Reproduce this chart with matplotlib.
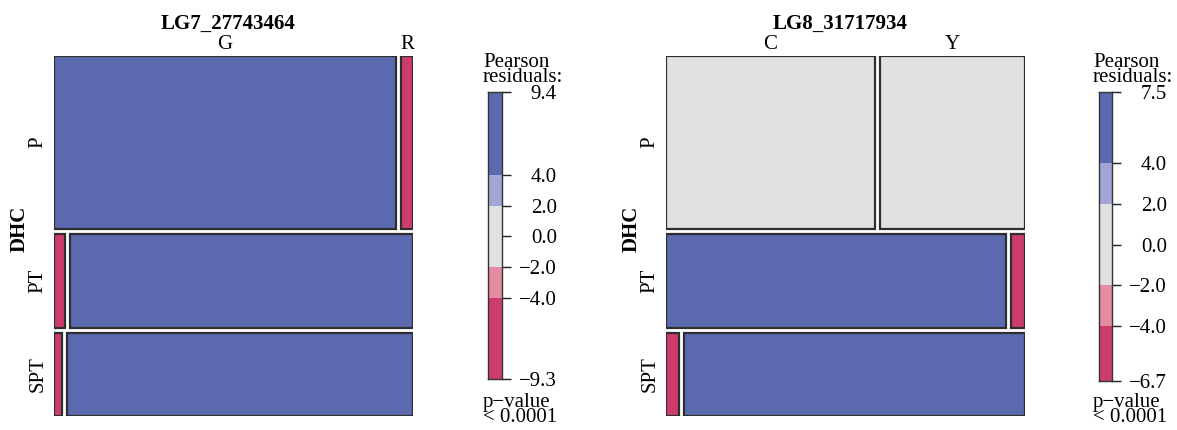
import matplotlib.pyplot as plt
from matplotlib.patches import Rectangle

plt.rcParams['font.family'] = ['Liberation Serif', 'DejaVu Serif']
plt.rcParams['font.size'] = 15

# data
row_labels = ['P', 'PT', 'SPT']
row_share = [0.494, 0.269, 0.237]

lg7_cells = [['G', 'R'], ['R', 'G'], ['R', 'G']]
lg7_share = [[0.966, 0.034], [0.031, 0.969], [0.023, 0.977]]
lg7_resid = [[9.4, -9.3], [-8.1, 6.9], [-7.6, 6.3]]
lg7_range = [-9.3, 9.4]

lg8_cells = [['C', 'Y'], ['C', 'Y'], ['Y', 'C']]
lg8_share = [[0.59, 0.41], [0.96, 0.04], [0.037, 0.963]]
lg8_resid = [[1.1, -1.3], [7.5, -6.7], [-6.1, 6.4]]
lg8_range = [-6.7, 7.5]

cut_points = [-4, -2, 2, 4]
shade_cols = ['#cc3d6e', '#e48ca1', '#e1e1e1', '#a3a5d6', '#5b69ae']


def shade(r):
    i = sum(r > c for c in cut_points)
    return shade_cols[i]


def fmt(v):
    return ('%.1f' % v).replace('-', '\u2212')


def mosaic(ax, title, cells, shares, resid, gx, gy):
    ax.set_xlim(0, 1)
    ax.set_ylim(0, 1)
    ax.axis('off')
    avail_h = 1 - gy * (len(row_share) - 1)
    top = 1.0
    for i, rs in enumerate(row_share):
        h = rs * avail_h
        y0 = top - h
        avail_w = 1 - gx * (len(cells[i]) - 1)
        x0 = 0.0
        for j, cs in enumerate(shares[i]):
            w = cs * avail_w
            ax.add_patch(Rectangle((x0, y0), w, h, facecolor=shade(resid[i][j]),
                                   edgecolor='#2e2e2e', linewidth=1.6))
            if i == 0:
                ax.text(x0 + w / 2, 1.032, cells[i][j], ha='center', va='center')
            x0 += w + gx
        ax.text(-0.045, y0 + h / 2, row_labels[i], rotation=90, ha='center', va='center')
        top = y0 - gy
    ax.text(-0.097, 0.52, 'DHC', rotation=90, ha='center', va='center', fontweight='bold')
    ax.text(0.485, 1.088, title, ha='center', va='center', fontweight='bold')


def legend(ax, rng, fig, txt_x):
    edges = [rng[0]] + cut_points + [rng[1]]
    for k in range(len(shade_cols)):
        ax.bar(0.5, edges[k + 1] - edges[k], bottom=edges[k], width=1,
               color=shade_cols[k], linewidth=0)
    ax.set_xlim(0, 1)
    ax.set_ylim(rng[0], rng[1])
    ax.set_xticks([])
    ticks = [rng[0]] + cut_points[:2] + [0] + cut_points[2:] + [rng[1]]
    ax.yaxis.tick_right()
    ax.set_yticks(ticks)
    ax.set_yticklabels([fmt(t) for t in ticks])
    ax.tick_params(axis='y', length=6.5, width=1, color='#222222', pad=33)
    for lab in ax.get_yticklabels():
        lab.set_horizontalalignment('right')
        lab.set_verticalalignment('center_baseline')
    for s in ax.spines.values():
        s.set_color('#333333')
        s.set_linewidth(1.0)
    fig.text(txt_x, 1 - 70 / 430, 'Pearson\nresiduals:', ha='left', va='center',
             linespacing=0.72)
    fig.text(txt_x, 1 - 410 / 430, 'p\u2212value\n< 0.0001', ha='left', va='center',
             linespacing=0.76)


W, H = 1177, 430
fig = plt.figure(figsize=(W / 100, H / 100), dpi=100)

ax1 = fig.add_axes([54 / W, 14 / H, 359 / W, 360 / H])
mosaic(ax1, 'LG7_27743464', lg7_cells, lg7_share, lg7_resid, 5 / 359, 5 / 360)
ax2 = fig.add_axes([666 / W, 14 / H, 359 / W, 360 / H])
mosaic(ax2, 'LG8_31717934', lg8_cells, lg8_share, lg8_resid, 5 / 359, 5 / 360)

lg1 = fig.add_axes([488 / W, 51 / H, 14 / W, 287 / H])
legend(lg1, lg7_range, fig, 483 / W)
lg2 = fig.add_axes([1099 / W, 49 / H, 13 / W, 289 / H])
legend(lg2, lg8_range, fig, 1093 / W)

fig.savefig('out.png', dpi=100)
